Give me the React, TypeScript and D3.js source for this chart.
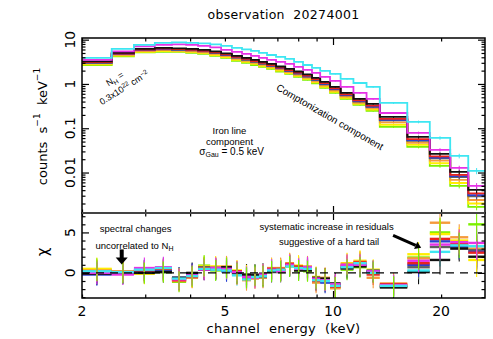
import React, { useEffect, useRef } from 'react';
import * as d3 from 'd3';

// channel bin edges (keV)
const edges = [2.0, 2.42, 2.79, 3.19, 3.56, 3.9, 4.21, 4.55, 4.88, 5.23, 5.58, 5.91, 6.22, 6.55, 6.94, 7.36, 7.79, 8.25, 8.74, 9.21, 9.81, 10.5, 11.4, 12.4, 13.5, 16.1, 18.6, 21.2, 23.8, 26.5];

// counts s^-1 keV^-1 per bin
const cyanCounts = [3.86, 6.17, 7.59, 8.42, 8.65, 8.42, 8.21, 7.79, 7.21, 6.50, 6.01, 5.56, 5.01, 4.51, 4.07, 3.67, 3.14, 2.68, 2.30, 1.97, 1.68, 1.30, 1.05, 0.855, 0.372, 0.139, 0.0604, 0.0237, 0.0109];
const magentaCounts = [3.48, 5.42, 7.02, 7.59, 7.79, 7.59, 7.21, 6.67, 5.85, 5.28, 4.76, 4.29, 3.86, 3.48, 3.14, 2.83, 2.42, 2.07, 1.77, 1.44, 1.17, 0.855, 0.626, 0.459, 0.221, 0.0783, 0.0324, 0.0127, 0.00498];
const blackCounts = [3.22, 5.01, 6.17, 6.50, 6.33, 6.17, 5.85, 5.42, 4.88, 4.29, 3.86, 3.48, 3.14, 2.83, 2.48, 2.18, 1.91, 1.64, 1.37, 1.11, 0.855, 0.626, 0.459, 0.354, 0.180, 0.0636, 0.0263, 0.0103, 0.00405];
const redCounts = [3.10, 4.85, 5.95, 6.25, 6.10, 5.90, 5.60, 5.18, 4.65, 4.08, 3.67, 3.30, 2.98, 2.68, 2.35, 2.06, 1.80, 1.54, 1.29, 1.04, 0.80, 0.585, 0.428, 0.325, 0.163, 0.057, 0.0232, 0.0089, 0.0034];
const blueCounts = [3.05, 4.78, 5.85, 6.12, 5.98, 5.78, 5.50, 5.07, 4.55, 3.98, 3.58, 3.22, 2.90, 2.60, 2.28, 2.00, 1.74, 1.49, 1.25, 1.00, 0.77, 0.56, 0.41, 0.31, 0.155, 0.054, 0.0218, 0.0083, 0.0031];
const grayCounts = [3.00, 4.70, 5.78, 6.05, 5.90, 5.70, 5.42, 5.00, 4.48, 3.92, 3.52, 3.16, 2.85, 2.56, 2.24, 1.96, 1.71, 1.46, 1.22, 0.98, 0.755, 0.55, 0.40, 0.303, 0.150, 0.052, 0.0210, 0.0079, 0.0029];
const orangeCounts = [2.90, 4.52, 5.55, 5.80, 5.65, 5.45, 5.18, 4.76, 4.25, 3.70, 3.33, 3.00, 2.70, 2.43, 2.13, 1.86, 1.61, 1.38, 1.15, 0.92, 0.705, 0.515, 0.375, 0.283, 0.135, 0.047, 0.0185, 0.0068, 0.0024];
const yellowCounts = [2.78, 4.34, 5.32, 5.50, 5.45, 5.22, 4.95, 4.50, 4.05, 3.50, 3.15, 2.83, 2.55, 2.30, 2.01, 1.76, 1.52, 1.30, 1.09, 0.86, 0.665, 0.485, 0.355, 0.263, 0.120, 0.042, 0.0162, 0.0058, 0.0020];
const greenCounts = [2.68, 4.18, 5.14, 5.28, 5.28, 5.01, 4.76, 4.29, 3.86, 3.31, 2.98, 2.68, 2.42, 2.18, 1.91, 1.68, 1.44, 1.23, 1.03, 0.812, 0.626, 0.459, 0.336, 0.246, 0.107, 0.0378, 0.0141, 0.00498, 0.00167];

// relative count errors per bin
const relErr = [0.01, 0.01, 0.01, 0.01, 0.01, 0.01, 0.01, 0.01, 0.012, 0.012, 0.014, 0.015, 0.016, 0.017, 0.018, 0.02, 0.022, 0.024, 0.026, 0.03, 0.032, 0.036, 0.04, 0.045, 0.05, 0.07, 0.09, 0.12, 0.16];

// residuals (chi)
const cyanRes = [0.2, 0.1, 0.4, 0.6, -0.7, -0.4, 0.5, 0.4, 0.3, -0.3, -0.8, -0.5, -0.4, 0.3, 0.4, 0.8, 0.6, 0.5, -0.9, -1.0, -1.6, 0.7, 1.2, 0.0, -1.6, 0.3, 2.6, 3.4, 3.3];
const magentaRes = [0.0, -0.2, 0.6, 0.7, -0.8, -0.3, 0.4, 0.6, 0.5, 0.1, -0.5, -0.6, -0.2, 0.4, 0.2, 1.0, 0.5, 0.7, -0.7, -0.9, -1.4, 1.0, 1.0, 0.2, -1.5, 1.5, 3.5, 3.8, 3.7];
const blackRes = [-0.1, 0.0, 0.0, 0.1, -0.6, 0.0, 0.4, 0.5, 0.7, 0.0, -0.2, -0.3, -0.1, 0.2, 0.3, 0.9, 0.3, 0.3, -0.6, -0.7, -1.3, 0.6, 0.8, 0.1, -1.8, 0.1, 1.6, 3.0, 2.0];
const redRes = [0.2, 0.1, 0.3, 0.5, -0.9, -0.5, 0.6, 0.5, 0.6, 0.2, -0.6, -0.4, -0.3, 0.5, 0.5, 1.1, 0.8, 0.4, -1.0, -0.8, -1.7, 0.9, 1.3, -0.2, -1.4, 1.2, 4.2, 3.6, 2.5];
const blueRes = [-0.2, -0.1, 0.3, 0.4, -0.6, -0.1, 0.5, 0.6, 0.2, 0.1, -0.7, -0.4, -0.3, 0.4, 0.3, 1.0, 0.6, 0.7, -0.9, -1.2, -1.6, 0.8, 1.1, 0.2, -1.6, 1.0, 3.9, 3.3, 2.6];
const grayRes = [0.1, -0.1, 0.2, 0.3, -0.8, -0.2, 0.7, 0.4, 0.4, -0.1, -0.4, -0.2, -0.5, 0.1, 0.1, 0.9, 0.4, 0.6, -0.8, -1.1, -1.5, 0.5, 0.9, 0.3, -1.7, 0.7, 3.2, 3.2, 2.8];
const orangeRes = [0.3, 0.2, 0.1, 0.4, -1.0, -0.6, 0.5, 0.7, 0.8, -0.2, -0.9, -0.7, -0.6, 0.6, 0.6, 1.2, 0.7, 0.8, -1.2, -0.6, -1.9, 1.1, 1.4, -0.6, -1.3, 1.8, 6.2, 4.4, 3.0];
const yellowRes = [0.5, 0.1, -0.1, 0.2, -0.7, -0.5, 0.8, 0.8, 0.6, 0.3, -0.3, -0.5, -0.2, 0.5, 0.4, 1.1, 0.9, 0.5, -0.5, -0.9, -1.5, 1.2, 1.5, 0.4, -1.5, 2.3, 4.8, 4.0, 1.6];
const greenRes = [0.4, 0.0, 0.0, 0.1, -1.1, -0.4, 0.9, 0.3, 0.6, 0.0, -0.6, -0.3, -0.4, 0.2, 0.2, 0.8, 0.3, 0.2, -0.7, -0.8, -1.8, 0.4, 0.7, 0.1, -1.7, 1.9, 5.0, 3.4, 6.0];

// error bar half-length in the residual panel
const resErr = [1.4, 1.3, 1.3, 1.3, 1.3, 1.3, 1.3, 1.3, 1.3, 1.3, 1.3, 1.3, 1.3, 1.3, 1.3, 1.3, 1.3, 1.3, 1.3, 1.3, 1.3, 1.3, 1.3, 1.3, 1.3, 1.5, 1.8, 1.6, 2.1];

const xTickLabels = [2, 5, 10, 20];
const xMinorTicks = [2, 3, 4, 5, 6, 7, 8, 9, 20];
const xMajorTicks = [10];
const yTopLabels = [0.01, 0.1, 1, 10];
const yResLabels = [0, 5];

const W = 493, H = 339;
const L = 82, R = 485, T = 38, MID = 213, B = 298;

const font = '"DejaVu Sans", sans-serif';
const annFont = '"Liberation Sans", Arial, sans-serif';

export default function App() {
  const svgRef = useRef<SVGSVGElement>(null);

  useEffect(() => {
    const svg = d3.select(svgRef.current);
    svg.selectAll('*').remove();

    const x = d3.scaleLog().domain([2, 26.5]).range([L, R]);
    const y = d3.scaleLog().domain([0.00122, 10.9]).range([MID, T]);
    const yr = d3.scaleLinear().domain([-3.1, 7.4]).range([B, MID]);

    const series = [
      { key: 'green', color: '#7cf000', counts: greenCounts, res: greenRes },
      { key: 'yellow', color: '#ffee00', counts: yellowCounts, res: yellowRes },
      { key: 'orange', color: '#f59a3c', counts: orangeCounts, res: orangeRes },
      { key: 'gray', color: '#606060', counts: grayCounts, res: grayRes },
      { key: 'blue', color: '#2a3fd0', counts: blueCounts, res: blueRes },
      { key: 'red', color: '#e8231e', counts: redCounts, res: redRes },
      { key: 'black', color: '#111111', counts: blackCounts, res: blackRes },
      { key: 'magenta', color: '#e632e6', counts: magentaCounts, res: magentaRes },
      { key: 'cyan', color: '#3ee6f2', counts: cyanCounts, res: cyanRes },
    ];
    const errOrder = ['cyan', 'black', 'red', 'gray', 'blue', 'orange', 'yellow', 'magenta', 'green'];
    const centers = edges.slice(0, -1).map((e, i) => Math.sqrt(e * edges[i + 1]));

    svg.append('rect').attr('width', W).attr('height', H).attr('fill', '#fff');
    const defs = svg.append('defs');
    defs.append('clipPath').attr('id', 'clipTop').append('rect')
      .attr('x', L).attr('y', T).attr('width', R - L).attr('height', MID - T);
    defs.append('clipPath').attr('id', 'clipBot').append('rect')
      .attr('x', L).attr('y', MID).attr('width', R - L).attr('height', B - MID);

    // upper panel: folded spectra
    const gTop = svg.append('g').attr('clip-path', 'url(#clipTop)');
    const step = d3.line<[number, number]>()
      .x(d => x(d[0])).y(d => y(d[1]))
      .curve(d3.curveStepAfter);
    series.forEach(s => {
      const pts = edges.map((e, i) => [e, s.counts[Math.min(i, s.counts.length - 1)]] as [number, number]);
      gTop.append('path')
        .attr('d', step(pts))
        .attr('fill', 'none')
        .attr('stroke', s.color)
        .attr('stroke-width', 1.8);
      gTop.selectAll(null).data(s.counts).enter().append('line')
        .attr('x1', (d, i) => x(centers[i])).attr('x2', (d, i) => x(centers[i]))
        .attr('y1', (d, i) => y(d * (1 + relErr[i]))).attr('y2', (d, i) => y(d * (1 - relErr[i])))
        .attr('stroke', s.color).attr('stroke-width', 1);
    });

    // lower panel: residuals
    const gBot = svg.append('g').attr('clip-path', 'url(#clipBot)');
    series.forEach(s => {
      gBot.selectAll(null).data(s.res).enter().append('line')
        .attr('x1', (d, i) => x(edges[i])).attr('x2', (d, i) => x(edges[i + 1]))
        .attr('y1', d => yr(d)).attr('y2', d => yr(d))
        .attr('stroke', s.color).attr('stroke-width', 2.4);
    });
    errOrder.forEach(k => {
      const s = series.find(t => t.key === k)!;
      gBot.selectAll(null).data(s.res).enter().append('line')
        .attr('x1', (d, i) => x(centers[i])).attr('x2', (d, i) => x(centers[i]))
        .attr('y1', (d, i) => yr(d + resErr[i])).attr('y2', (d, i) => yr(d - resErr[i]))
        .attr('stroke', s.color).attr('stroke-width', 1.1);
    });
    gBot.append('line')
      .attr('x1', L).attr('x2', R).attr('y1', yr(0)).attr('y2', yr(0))
      .attr('stroke', '#000').attr('stroke-width', 1.4).attr('stroke-dasharray', '8,6');

    // ticks
    const tickStyle = (g: d3.Selection<SVGGElement, unknown, null, undefined>) => {
      g.select('.domain').remove();
      g.selectAll('text').remove();
      g.selectAll('line').attr('stroke', '#000').attr('stroke-width', 1.2);
    };
    const hAxis = (yPos: number, dir: number) => {
      svg.append('g').attr('transform', `translate(0,${yPos})`)
        .call(d3.axisBottom(x).tickValues(xMinorTicks).tickSize(3.5 * dir)).call(tickStyle);
      svg.append('g').attr('transform', `translate(0,${yPos})`)
        .call(d3.axisBottom(x).tickValues(xMajorTicks).tickSize(7 * dir)).call(tickStyle);
    };
    hAxis(T, 1); hAxis(MID, -1); hAxis(MID, 1); hAxis(B, -1);

    const yMinor: number[] = [];
    [0.001, 0.01, 0.1, 1].forEach(dec => {
      for (let k = 2; k <= 9; k++) {
        const v = k * dec;
        if (v > 0.00122 && v < 10.9) yMinor.push(v);
      }
    });
    const resMinor = d3.range(-3, 8).filter(v => v !== 0 && v !== 5);
    [[L, 1], [R, -1]].forEach(([xPos, dir]) => {
      svg.append('g').attr('transform', `translate(${xPos},0)`)
        .call(d3.axisLeft(y).tickValues(yMinor).tickSize(-3.5 * dir)).call(tickStyle);
      svg.append('g').attr('transform', `translate(${xPos},0)`)
        .call(d3.axisLeft(y).tickValues(yTopLabels).tickSize(-7 * dir)).call(tickStyle);
      svg.append('g').attr('transform', `translate(${xPos},0)`)
        .call(d3.axisLeft(yr).tickValues(resMinor).tickSize(-3.5 * dir)).call(tickStyle);
      svg.append('g').attr('transform', `translate(${xPos},0)`)
        .call(d3.axisLeft(yr).tickValues(yResLabels).tickSize(-7 * dir)).call(tickStyle);
    });

    // frames
    svg.append('rect').attr('x', L).attr('y', T).attr('width', R - L).attr('height', MID - T)
      .attr('fill', 'none').attr('stroke', '#000').attr('stroke-width', 1.5);
    svg.append('rect').attr('x', L).attr('y', MID).attr('width', R - L).attr('height', B - MID)
      .attr('fill', 'none').attr('stroke', '#000').attr('stroke-width', 1.5);
    svg.append('line').attr('x1', L).attr('x2', R).attr('y1', MID).attr('y2', MID)
      .attr('stroke', '#444').attr('stroke-width', 2);

    // tick labels
    svg.append('g').selectAll('text').data(xTickLabels).enter().append('text')
      .attr('x', d => x(d)).attr('y', 311)
      .attr('text-anchor', 'middle').attr('dominant-baseline', 'central')
      .attr('font-family', font).attr('font-size', 14).text(d => d);
    svg.append('g').selectAll('text').data(yTopLabels).enter().append('text')
      .attr('transform', d => `translate(70,${y(d)}) rotate(-90)`)
      .attr('text-anchor', 'middle').attr('dominant-baseline', 'central')
      .attr('font-family', font).attr('font-size', 14).text(d => String(d));
    svg.append('g').selectAll('text').data(yResLabels).enter().append('text')
      .attr('transform', d => `translate(70,${yr(d)}) rotate(-90)`)
      .attr('text-anchor', 'middle').attr('dominant-baseline', 'central')
      .attr('font-family', font).attr('font-size', 14).text(d => String(d));

    // titles
    svg.append('text').attr('x', (L + R) / 2).attr('y', 14)
      .attr('text-anchor', 'middle').attr('dominant-baseline', 'central')
      .attr('font-family', font).attr('font-size', 12.5).attr('letter-spacing', 0.3)
      .text('observation  20274001').attr('style', 'white-space:pre');
    svg.append('text').attr('x', (L + R) / 2).attr('y', 328)
      .attr('text-anchor', 'middle').attr('dominant-baseline', 'central')
      .attr('font-family', font).attr('font-size', 13).attr('letter-spacing', 0.3)
      .attr('style', 'white-space:pre').text('channel  energy  (keV)');

    const yl = svg.append('text').attr('transform', `translate(42,${(T + MID) / 2 + 1}) rotate(-90)`)
      .attr('text-anchor', 'middle').attr('dominant-baseline', 'central')
      .attr('font-family', font).attr('font-size', 13);
    yl.append('tspan').text('counts  s');
    yl.append('tspan').attr('dy', -5).attr('font-size', 9).text('−1');
    yl.append('tspan').attr('dy', 5).text('  keV');
    yl.append('tspan').attr('dy', -5).attr('font-size', 9).text('−1');
    yl.attr('style', 'white-space:pre');

    svg.append('text').attr('transform', `translate(43,${yr(2.6)}) rotate(-90)`)
      .attr('text-anchor', 'middle').attr('dominant-baseline', 'central')
      .attr('font-family', font).attr('font-size', 15).text('χ');

    // annotations
    const ann = (tx: number, ty: number, rot: number, size: number) =>
      svg.append('text').attr('transform', `translate(${tx},${ty}) rotate(${rot})`)
        .attr('text-anchor', 'middle').attr('dominant-baseline', 'central')
        .attr('font-family', annFont).attr('font-size', size).attr('fill', '#000');

    const nh1 = ann(x(2.47), y(1.3), -32, 9);
    nh1.append('tspan').text('N');
    nh1.append('tspan').attr('dy', 2.5).attr('font-size', 6.5).text('H');
    nh1.append('tspan').attr('dy', -2.5).text(' =');
    const nh2 = ann(x(2.62), y(0.82), -32, 9);
    nh2.append('tspan').text('0.3x10');
    nh2.append('tspan').attr('dy', -3).attr('font-size', 6.5).text('22');
    nh2.append('tspan').attr('dy', 3).text(' cm');
    nh2.append('tspan').attr('dy', -3).attr('font-size', 6.5).text('−2');

    ann(x(5.15), y(0.088), 0, 9.5).text('Iron line');
    ann(x(5.15), y(0.051), 0, 9.5).text('component');
    const sg = ann(x(5.22), y(0.03), 0, 10);
    sg.append('tspan').text('σ');
    sg.append('tspan').attr('dy', 3).attr('font-size', 7).text('Gau');
    sg.append('tspan').attr('dy', -3).text(' = 0.5 keV');

    ann(x(9.8), y(0.18), 30, 10).text('Comptonization component');

    ann(x(2.82), yr(5.5), 0, 9.5).text('spectral changes');
    const un = ann(x(2.8), yr(3.4), 0, 9.5);
    un.append('tspan').text('uncorrelated to N');
    un.append('tspan').attr('dy', 2.5).attr('font-size', 7).text('H');

    ann(x(9.6), yr(5.7), 0, 9.5).text('systematic increase in residuals');
    ann(x(9.75), yr(3.9), 0, 9.5).text('suggestive of a hard tail');

    // arrows
    const ax = x(2.58);
    svg.append('line').attr('x1', ax).attr('x2', ax).attr('y1', yr(2.9)).attr('y2', yr(1.8))
      .attr('stroke', '#000').attr('stroke-width', 4);
    svg.append('path')
      .attr('d', `M${ax - 6},${yr(1.9)} L${ax + 6},${yr(1.9)} L${ax},${yr(1.05)} Z`)
      .attr('fill', '#000');

    const x1 = x(14.7), y1 = yr(4.65), x2 = x(17.6), y2 = yr(3.1);
    const ang = Math.atan2(y2 - y1, x2 - x1);
    const hx = x2 - 6 * Math.cos(ang), hy = y2 - 6 * Math.sin(ang);
    svg.append('line').attr('x1', x1).attr('y1', y1).attr('x2', hx).attr('y2', hy)
      .attr('stroke', '#000').attr('stroke-width', 3);
    const px = -Math.sin(ang) * 4, py = Math.cos(ang) * 4;
    svg.append('path')
      .attr('d', `M${hx + px},${hy + py} L${hx - px},${hy - py} L${x2},${y2} Z`)
      .attr('fill', '#000');
  }, []);

  return (
    <div style={{ position: 'absolute', left: 0, top: 0, width: W, height: H, background: '#fff' }}>
      <svg ref={svgRef} width={W} height={H}></svg>
    </div>
  );
}
